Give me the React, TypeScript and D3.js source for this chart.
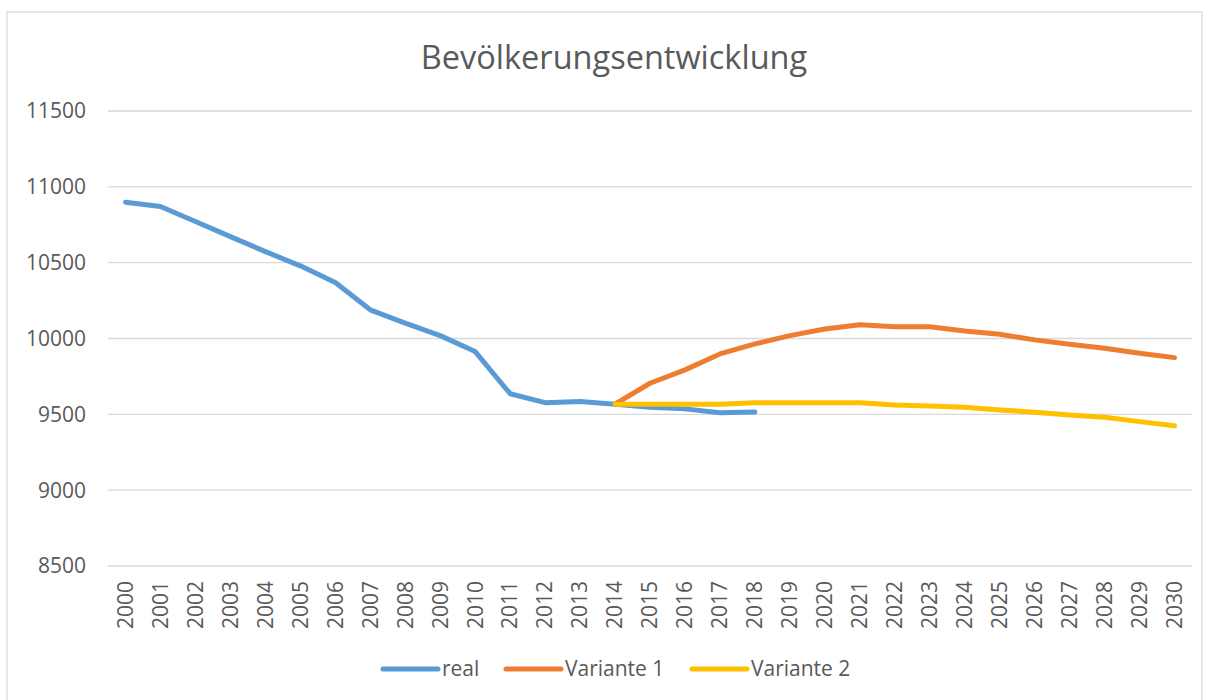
import React from 'react';
import * as d3 from 'd3';

const years = [
  '2000', '2001', '2002', '2003', '2004', '2005', '2006', '2007', '2008', '2009', '2010',
  '2011', '2012', '2013', '2014', '2015', '2016', '2017', '2018', '2019', '2020',
  '2021', '2022', '2023', '2024', '2025', '2026', '2027', '2028', '2029', '2030',
];

// real: 2000-2018
const realValues = [
  10899, 10870, 10771, 10672, 10573, 10479, 10369, 10189, 10101, 10019, 9914,
  9636, 9577, 9584, 9567, 9547, 9536, 9511, 9516,
];
// Variante 1 / 2: 2014-2030
const variante1 = [
  9567, 9705, 9793, 9898, 9964, 10019, 10063, 10090, 10078, 10078, 10050,
  10028, 9991, 9962, 9936, 9903, 9874,
];
const variante2 = [
  9567, 9566, 9566, 9567, 9577, 9577, 9577, 9577, 9562, 9555, 9547,
  9529, 9514, 9496, 9481, 9452, 9425,
];
const yTicks = [8500, 9000, 9500, 10000, 10500, 11000, 11500];

const seriesNames = ['real', 'Variante 1', 'Variante 2'];
const seriesColors = ['#5B9BD5', '#ED7D31', '#FFC000'];

const W = 1209;
const H = 700;
const FONT = '"Open Sans", "Liberation Sans", sans-serif';

const App = () => {
  const margin = { left: 108, right: 17, top: 111, bottom: 134 };

  const x = d3.scalePoint<string>()
    .domain(years)
    .range([margin.left, W - margin.right])
    .padding(0.5);

  const y = d3.scaleLinear()
    .domain([8500, 11500])
    .range([H - margin.bottom, margin.top]);

  const line = d3.line<{ year: string; value: number }>()
    .x(d => x(d.year) as number)
    .y(d => y(d.value));

  const series = [
    realValues.map((v, i) => ({ year: years[i], value: v })),
    variante1.map((v, i) => ({ year: years[14 + i], value: v })),
    variante2.map((v, i) => ({ year: years[14 + i], value: v })),
  ];

  const legendX = [383, 506, 692];

  return (
    <svg width={W} height={H} style={{ position: 'absolute', left: 0, top: 0, background: '#fff' }}
      fontFamily={FONT}>
      <rect x={7} y={12} width={1195} height={700} fill="#fff" stroke="#d9d9d9" strokeWidth={1.3} />

      <text x={614} y={69} textAnchor="middle" fontSize={32.5} fill="#595959">Bevölkerungsentwicklung</text>

      {yTicks.map(t => (
        <g key={t}>
          <line x1={margin.left} x2={W - margin.right} y1={y(t)} y2={y(t)} stroke="#d9d9d9" strokeWidth={1.3} />
          <text x={86} y={y(t)} dy="0.35em" textAnchor="end" fontSize={21} fill="#595959">{t}</text>
        </g>
      ))}

      {years.map(yr => (
        <text key={yr} transform={`translate(${x(yr)},${y(8500) + 15}) rotate(-90)`}
          textAnchor="end" dy="0.35em" fontSize={21} fill="#595959">{yr}</text>
      ))}

      {series.map((s, i) => (
        <path key={i} d={line(s) || ''} fill="none" stroke={seriesColors[i]} strokeWidth={5}
          strokeLinejoin="round" strokeLinecap="round" />
      ))}

      {seriesNames.map((name, i) => (
        <g key={name}>
          <line x1={legendX[i]} x2={legendX[i] + 55} y1={669} y2={669} stroke={seriesColors[i]}
            strokeWidth={5} strokeLinecap="round" />
          <text x={legendX[i] + 59} y={669} dy="0.35em" fontSize={21} fill="#595959">{name}</text>
        </g>
      ))}
    </svg>
  );
};

export default App;
